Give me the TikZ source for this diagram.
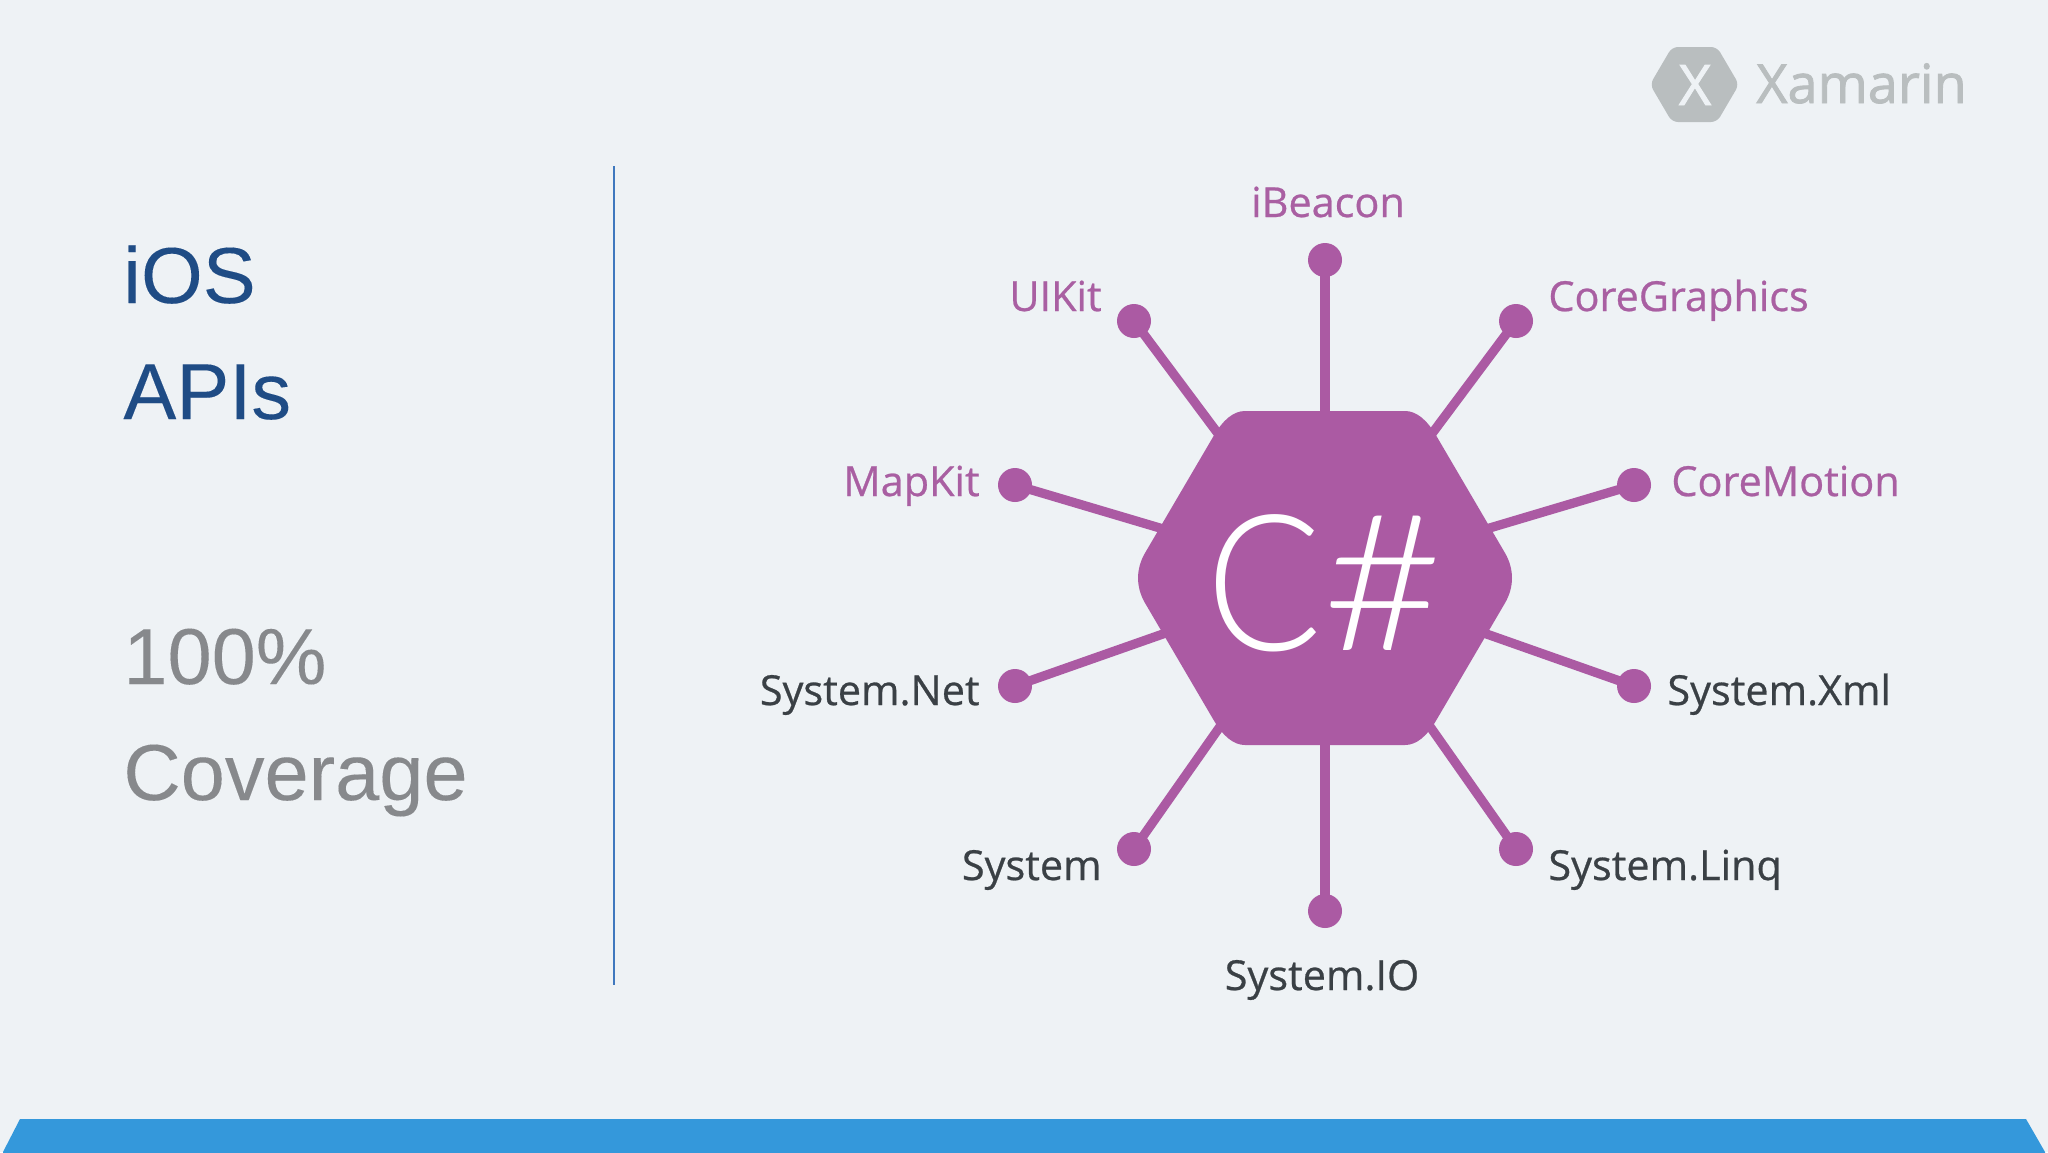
\documentclass[tikz,border=0pt]{standalone}
\usepackage{fontspec}
\setmainfont{Liberation Sans}[FakeBold=0.12]
\newfontfamily\labelfont[FakeBold=0.6]{Open Sans}
\newfontfamily\logofont[FakeBold=1.6]{Open Sans}
\newfontfamily\hubfont{Lato Light}
\definecolor{bgc}{HTML}{EEF2F5}
\definecolor{purp}{HTML}{AB5AA3}
\definecolor{purptext}{HTML}{A95FA2}
\definecolor{darktext}{HTML}{3A4045}
\definecolor{navy}{HTML}{1F4C85}
\definecolor{greyt}{HTML}{87898C}
\definecolor{rule}{HTML}{3F78BE}
\definecolor{band}{HTML}{3498DB}
\definecolor{logo}{HTML}{B9BEBF}
\tikzset{
  x=0.5pt,y=-0.5pt,
  dotn/.style={circle,fill=purp,inner sep=0pt,minimum size=17pt},
  spoke/.style={draw=purp,line width=4.6pt},
  lab/.style={font=\labelfont\fontsize{20.7}{24}\selectfont,inner sep=0pt},
  labp/.style={lab,text=purptext},
  labd/.style={lab,text=darktext},
  headl/.style={font=\fontsize{39.7}{46}\selectfont,inner sep=0pt,anchor=base west}
}
\begin{document}
\begin{tikzpicture}
\useasboundingbox (0,0) rectangle (2048,1152);
\fill[bgc] (0,0) rectangle (2048,1152);
% band
\fill[band] (3,1160) -- (3,1152) -- (20,1119) -- (2026,1119) -- (2045,1152) -- (2045,1160) -- cycle;
% left text
\node[headl,text=navy] (t1) at (123,303) {iOS};
\node[headl,text=navy] (t2) at (123,419) {APIs};
\node[headl,text=greyt] (t3) at (123,684) {100\%};
\node[headl,text=greyt] (t4) at (123,800) {Coverage};
\draw[rule,line width=1pt] (614,166) -- (614,985);
% logo
\fill[logo,rounded corners=3pt] (1650,84.5) -- (1672,47) -- (1717,47) -- (1739,84.5) -- (1717,122) -- (1672,122) -- cycle;
\node[font=\logofont\fontsize{28}{32}\selectfont,text=bgc,inner sep=0pt,anchor=base] (lx) at (1695,105) {X};
\node[font=\logofont\fontsize{27}{32}\selectfont,text=logo,inner sep=0pt,anchor=base west] (lt) at (1756,103) {Xamarin};
% dots
\coordinate (hubc) at (1325,577);
\node[dotn] (d1) at (1325,260) {};
\node[dotn] (d2) at (1134,321) {};
\node[dotn] (d3) at (1516,321) {};
\node[dotn] (d4) at (1015,485) {};
\node[dotn] (d5) at (1634,485) {};
\node[dotn] (d6) at (1015,686) {};
\node[dotn] (d7) at (1634,686) {};
\node[dotn] (d8) at (1134,849) {};
\node[dotn] (d9) at (1516,849) {};
\node[dotn] (d10) at (1325,911) {};
\foreach \n in {1,...,10} \draw[spoke] (d\n.center) -- (hubc);
% hexagon
\fill[purp] (1145,553) -- (1213,437) .. controls (1223,419.6) and (1233.6,411) .. (1245,411) -- (1405,411) .. controls (1416.4,411) and (1427,419.6) .. (1437,437)
  -- (1505,553) .. controls (1514.3,569) and (1514.3,587) .. (1505,603) -- (1437,719) .. controls (1427,736.4) and (1416.4,745) .. (1405,745)
  -- (1245,745) .. controls (1233.6,745) and (1223,736.4) .. (1213,719) -- (1145,603) .. controls (1135.7,587) and (1135.7,569) .. cycle;
\node[font=\hubfont\fontsize{95}{100}\selectfont,text=white,inner sep=0pt,anchor=base] (hub) at (1325,650) {\scalebox{0.9}[1]{C}\kern0pt\scalebox{1.1}[1]{\#}};
% labels
\node[labp,anchor=base] (l1) at (1328,217) {iBeacon};
\node[labp,anchor=base east] (l2) at (1102,311) {UIKit};
\node[labp,anchor=base west] (l3) at (1548,311) {CoreGraphics};
\node[labp,anchor=base east] (l4) at (980,496) {MapKit};
\node[labp,anchor=base west] (l5) at (1671,496) {CoreMotion};
\node[labd,anchor=base east] (l6) at (980,705) {System.Net};
\node[labd,anchor=base west] (l7) at (1667,705) {System.Xml};
\node[labd,anchor=base east] (l8) at (1102,880) {System};
\node[labd,anchor=base west] (l9) at (1548,880) {System.Linq};
\node[labd,anchor=base] (l10) at (1322,990) {System.IO};
\end{tikzpicture}
\end{document}
